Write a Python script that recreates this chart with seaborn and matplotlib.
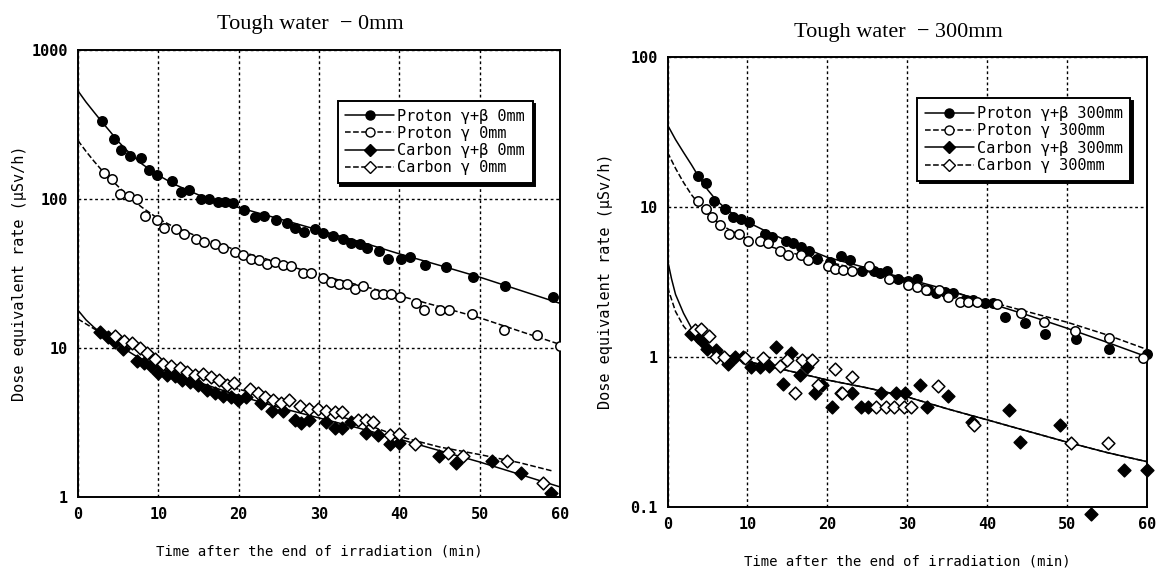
import numpy as np
import pandas as pd
import matplotlib
matplotlib.use("Agg")
import matplotlib.pyplot as plt
import seaborn as sns
from matplotlib.lines import Line2D

# ---------------- Left panel: Tough water - 0mm ----------------
p_gb0_t = [2.95, 4.47, 5.4, 6.45, 7.9, 8.85, 9.86, 11.75, 12.86, 13.8, 15.3, 16.3, 17.4, 18.3, 19.3,
           20.7, 22.1, 23.1, 24.6, 26.0, 27.05, 28.1, 29.5, 30.5, 31.7, 33.0, 33.96, 35.1, 36.0, 37.5,
           38.6, 40.2, 41.3, 43.2, 45.8, 49.2, 53.2, 59.1]
p_gb0_v = [333, 255, 215, 195, 189, 156, 145, 133, 112, 115, 100, 100, 95.5, 95.5, 94,
           85, 76, 77, 72, 69, 64, 60, 63, 59, 57, 54, 51, 50, 47, 45,
           40, 40, 41, 36, 35, 30, 26, 22]
p_g0_t = [3.3, 4.2, 5.25, 6.3, 7.3, 8.3, 9.8, 10.7, 12.2, 13.2, 14.7, 15.7, 17.1, 18.1, 19.5,
          20.6, 21.5, 22.5, 23.5, 24.5, 25.5, 26.5, 28.0, 29.0, 30.5, 31.5, 32.5, 33.5, 34.5, 35.5,
          37.0, 38.0, 39.0, 40.1, 42.1, 43.1, 45.1, 46.2, 49.1, 53.0, 57.1, 60.0]
p_g0_v = [149, 137, 109, 105, 100, 77, 72, 64, 63, 58, 54, 52, 50, 47, 44,
          42, 40, 39, 37, 38, 36, 35.5, 32, 32, 29.5, 28, 27, 27, 25, 26,
          23, 23, 23, 22, 20, 18, 18, 18, 17, 13.3, 12.3, 10.4]
c_gb0_t = [2.7, 3.7, 4.65, 5.6, 7.3, 8.2, 9.05, 10.0, 11.1, 12.1, 12.95, 13.9, 14.95, 16.1, 17.0,
           18.05, 19.0, 19.9, 20.95, 22.8, 24.2, 25.5, 27.0, 27.8, 28.8, 30.9, 31.95, 32.9, 33.95, 35.9,
           37.3, 38.9, 40.0, 45.0, 47.0, 51.5, 55.1, 58.9]
c_gb0_v = [12.9, 11.8, 11.0, 9.8, 8.2, 7.9, 7.6, 6.8, 6.6, 6.5, 6.1, 5.9, 5.7, 5.2, 5.0,
           4.8, 4.7, 4.5, 4.7, 4.25, 3.8, 3.8, 3.3, 3.15, 3.3, 3.2, 2.9, 2.9, 3.2, 2.7,
           2.6, 2.26, 2.3, 1.9, 1.7, 1.74, 1.45, 1.06]
c_g0_t = [4.6, 5.7, 6.7, 7.7, 8.6, 9.55, 10.6, 11.6, 12.65, 13.6, 14.6, 15.6, 16.6, 17.5, 18.5,
          19.4, 21.4, 22.4, 23.3, 24.3, 25.3, 26.3, 27.7, 28.7, 29.9, 30.9, 31.95, 32.9, 34.8, 35.8,
          36.7, 38.8, 40.0, 41.9, 46.0, 47.9, 53.4, 57.9]
c_g0_v = [12.1, 11.2, 10.9, 10.1, 9.3, 8.5, 7.8, 7.6, 7.4, 6.9, 6.6, 6.7, 6.4, 6.1, 5.7,
          5.8, 5.3, 5.0, 4.7, 4.5, 4.25, 4.5, 4.1, 3.9, 3.9, 3.8, 3.7, 3.7, 3.3, 3.3,
          3.2, 2.6, 2.65, 2.26, 1.98, 1.88, 1.74, 1.25]

# fitted curves (left)
fit_p_gb0_t = [0, 1, 2, 3, 4, 5, 6, 7, 8, 10, 12, 15, 20, 25, 30, 35, 40, 45, 50, 55, 60]
fit_p_gb0_v = [535, 450, 385, 330, 285, 245, 215, 192, 172, 145, 126, 107, 88, 74, 62, 52, 43, 36, 30, 24.5, 20]
fit_p_g0_t = [0, 1, 2, 3, 4, 5, 6, 7, 8, 10, 12, 15, 20, 25, 30, 35, 40, 45, 50, 55, 60]
fit_p_g0_v = [248, 210, 180, 156, 138, 122, 108, 97, 88, 74, 65, 56, 45, 37.5, 31, 26.5, 22.5, 19, 16, 13, 10.6]
fit_c_gb0_t = [0, 1, 2, 3, 5, 7, 10, 15, 20, 25, 30, 35, 40, 45, 50, 55, 60]
fit_c_gb0_v = [18, 15.5, 13.8, 12.5, 10.5, 9.0, 7.4, 5.9, 4.8, 4.0, 3.4, 2.9, 2.45, 2.05, 1.72, 1.42, 1.17]
fit_c_g0_t = [0, 2, 5, 10, 15, 20, 25, 30, 35, 40, 45, 50, 55, 59]
fit_c_g0_v = [15.7, 13.5, 11.2, 8.2, 6.4, 5.3, 4.5, 3.8, 3.2, 2.55, 2.17, 1.93, 1.7, 1.5]

# ---------------- Right panel: Tough water - 300mm ----------------
p_gb3_t = [3.85, 4.87, 5.8, 7.24, 8.17, 9.2, 10.2, 12.2, 13.1, 14.8, 15.7, 16.7, 17.7, 18.7, 20.3,
           21.7, 22.9, 24.3, 25.8, 26.6, 27.5, 28.9, 30.1, 31.2, 32.6, 33.6, 34.7, 35.8, 37.3, 38.3,
           39.8, 40.7, 42.3, 44.7, 47.3, 51.2, 55.3, 60.0]
p_gb3_v = [16.1, 14.3, 10.9, 9.7, 8.6, 8.3, 7.9, 6.6, 6.3, 5.9, 5.7, 5.4, 5.1, 4.5, 4.3,
           4.7, 4.4, 3.7, 3.7, 3.6, 3.7, 3.3, 3.2, 3.3, 2.8, 2.66, 2.7, 2.66, 2.4, 2.4,
           2.27, 2.27, 1.85, 1.68, 1.42, 1.31, 1.13, 1.05]
p_g3_t = [3.76, 4.78, 5.6, 6.6, 7.66, 8.96, 10.1, 11.6, 12.6, 14.1, 15.1, 16.7, 17.6, 20.1, 21.0,
          22.0, 23.1, 25.2, 27.7, 30.1, 31.2, 32.4, 34.0, 35.1, 36.6, 37.6, 38.7, 41.2, 44.2, 47.2,
          51.0, 55.3, 59.5]
p_g3_v = [10.9, 9.7, 8.5, 7.6, 6.6, 6.6, 5.9, 5.9, 5.7, 5.1, 4.8, 4.8, 4.4, 4.0, 3.85,
          3.8, 3.7, 4.0, 3.3, 3.0, 2.9, 2.8, 2.8, 2.5, 2.3, 2.3, 2.3, 2.24, 1.96, 1.71,
          1.48, 1.34, 0.98]
c_gb3_t = [2.9, 3.85, 4.3, 5.0, 6.1, 7.56, 8.5, 9.4, 10.4, 11.6, 12.7, 13.6, 14.4, 15.5, 16.6,
           17.5, 18.5, 19.4, 20.6, 21.7, 23.1, 24.2, 25.1, 26.7, 28.6, 29.7, 31.6, 32.5, 35.1, 38.1,
           42.7, 44.1, 49.1, 53.0, 57.1, 60.0]
c_gb3_v = [1.42, 1.36, 1.27, 1.13, 1.11, 0.90, 0.99, 0.99, 0.85, 0.85, 0.87, 1.16, 0.66, 1.06, 0.755,
           0.85, 0.57, 0.65, 0.465, 0.57, 0.57, 0.465, 0.465, 0.57, 0.57, 0.57, 0.65, 0.465, 0.55, 0.37,
           0.445, 0.27, 0.353, 0.089, 0.176, 0.176]
c_g3_t = [3.4, 4.2, 5.2, 6.1, 7.1, 9.65, 12.0, 14.1, 14.9, 15.9, 16.8, 18.1, 18.9, 21.0, 21.9,
          23.1, 26.1, 27.3, 28.4, 29.6, 30.5, 33.9, 38.4, 50.5, 55.1]
c_g3_v = [1.5, 1.53, 1.38, 0.99, 0.99, 0.98, 0.98, 0.87, 0.95, 0.57, 0.95, 0.95, 0.65, 0.83, 0.57,
          0.73, 0.465, 0.465, 0.465, 0.465, 0.465, 0.64, 0.353, 0.265, 0.265]

# fitted curves (right)
fit_p_gb3_t = [0, 1, 2, 3, 4, 5, 6, 7, 8, 10, 12, 15, 20, 25, 30, 35, 40, 45, 50, 55, 60]
fit_p_gb3_v = [35, 28, 23, 19, 15.5, 13, 11.2, 10, 9.1, 7.9, 7.0, 5.9, 4.6, 3.9, 3.3, 2.8, 2.3, 1.9, 1.55, 1.25, 1.0]
fit_p_g3_t = [0, 1, 2, 3, 4, 5, 6, 7, 8, 10, 12, 15, 20, 25, 30, 35, 40, 45, 50, 55, 60]
fit_p_g3_v = [23, 18, 14.5, 12, 10.3, 9.0, 8.1, 7.4, 6.9, 6.1, 5.6, 5.0, 4.3, 3.7, 3.2, 2.75, 2.35, 2.0, 1.7, 1.4, 1.12]
fit_c_gb3_t = [0, 0.5, 1, 2, 3, 4, 5, 6, 8, 10, 15, 20, 25, 30, 35, 40, 45, 50, 55, 60]
fit_c_gb3_v = [4.4, 3.3, 2.6, 1.95, 1.55, 1.3, 1.17, 1.1, 1.0, 0.93, 0.81, 0.70, 0.62, 0.54, 0.45, 0.38, 0.32, 0.27, 0.23, 0.20]
fit_c_g3_t = [0, 1, 2, 3, 4, 5, 6, 8, 10, 15, 20, 25, 30, 35, 40, 45, 50, 55, 60]
fit_c_g3_v = [2.9, 2.0, 1.6, 1.38, 1.25, 1.15, 1.08, 1.0, 0.93, 0.81, 0.70, 0.62, 0.54, 0.45, 0.38, 0.32, 0.27, 0.23, 0.20]

left_labels = ["Proton γ+β 0mm", "Proton γ 0mm", "Carbon γ+β 0mm", "Carbon γ 0mm"]
right_labels = ["Proton γ+β 300mm", "Proton γ 300mm", "Carbon γ+β 300mm", "Carbon γ 300mm"]
left_yticks = [1, 10, 100, 1000]
left_yticklabels = ["1", "10", "100", "1000"]
right_yticks = [0.1, 1, 10, 100]
right_yticklabels = ["0.1", "1", "10", "100"]
xticks = [0, 10, 20, 30, 40, 50, 60]

# ---------------- drawing ----------------
sns.set_theme(style="white")
plt.rcParams['font.family'] = ['DejaVu Sans Mono', 'DejaVu Sans']

fig = plt.figure(figsize=(11.63, 5.72), dpi=100)
ax1 = fig.add_axes([0.067, 0.131, 0.4145, 0.781])
ax2 = fig.add_axes([0.574, 0.114, 0.412, 0.787])

styles = [  # (marker, facecolor, linestyle)
    ("o", "black", "-"),
    ("o", "white", "--"),
    ("D", "black", "-"),
    ("D", "white", "--"),
]


def draw_panel(ax, pts, fits, labels, yticks, yticklabels, ylim, legend_anchor):
    for (t, v), (ft, fv), (mk, fc, ls) in zip(pts, fits, styles):
        sns.lineplot(x=ft, y=fv, ax=ax, color="black", linestyle=ls, linewidth=1.1,
                     estimator=None, sort=True, legend=False)
        sns.scatterplot(x=t, y=v, ax=ax, marker=mk, s=46 if mk == "o" else 42,
                        color=fc, edgecolor="black", linewidth=1.1, legend=False, zorder=3)
    ax.set_yscale("log")
    ax.set_xlim(0, 60)
    ax.set_ylim(*ylim)
    ax.set_xticks(xticks)
    ax.set_xticklabels([str(x) for x in xticks])
    ax.set_yticks(yticks)
    ax.set_yticklabels(yticklabels)
    ax.yaxis.set_minor_locator(matplotlib.ticker.NullLocator())
    ax.tick_params(axis="both", length=0, pad=7, labelsize=11, colors="black")
    for lab in ax.get_xticklabels() + ax.get_yticklabels():
        lab.set_fontweight("bold")
    ax.grid(True, which="major", color="black", linestyle=(0, (2, 2)), linewidth=1.0)
    for sp in ax.spines.values():
        sp.set_color("black")
        sp.set_linewidth(1.4)
        sp.set_visible(True)
    ax.set_xlabel("Time after the end of irradiation (min)", fontsize=10, color="black")
    ax.set_ylabel("Dose equivalent rate (μSv/h)", fontsize=11, color="black")
    handles = []
    for (mk, fc, ls) in styles:
        handles.append(Line2D([], [], color="black", linestyle=ls, linewidth=1.1,
                              marker=mk, markersize=6.5 if mk == "o" else 6,
                              markerfacecolor=fc, markeredgecolor="black"))
    leg = ax.legend(handles, labels, loc="upper left", bbox_to_anchor=legend_anchor,
                    fontsize=11, frameon=True, fancybox=False, framealpha=1,
                    edgecolor="black", handlelength=3.2, handletextpad=0.2,
                    labelspacing=0.15, borderpad=0.5,
                    shadow={"color": "black", "alpha": 1})
    leg.get_frame().set_linewidth(1.4)
    for txt in leg.get_texts():
        txt.set_color("black")


draw_panel(ax1,
           [(p_gb0_t, p_gb0_v), (p_g0_t, p_g0_v), (c_gb0_t, c_gb0_v), (c_g0_t, c_g0_v)],
           [(fit_p_gb0_t, fit_p_gb0_v), (fit_p_g0_t, fit_p_g0_v),
            (fit_c_gb0_t, fit_c_gb0_v), (fit_c_g0_t, fit_c_g0_v)],
           left_labels, left_yticks, left_yticklabels, (1, 1000), (0.523, 0.904))
ax1.xaxis.set_label_coords(0.5, -0.107)
ax1.yaxis.set_label_coords(-0.106, 0.5)

draw_panel(ax2,
           [(p_gb3_t, p_gb3_v), (p_g3_t, p_g3_v), (c_gb3_t, c_gb3_v), (c_g3_t, c_g3_v)],
           [(fit_p_gb3_t, fit_p_gb3_v), (fit_p_g3_t, fit_p_g3_v),
            (fit_c_gb3_t, fit_c_gb3_v), (fit_c_g3_t, fit_c_g3_v)],
           right_labels, right_yticks, right_yticklabels, (0.1, 100), (0.505, 0.924))
ax2.xaxis.set_label_coords(0.5, -0.105)
ax2.yaxis.set_label_coords(-0.113, 0.5)
for c in ax2.collections:
    c.set_clip_on(False)

fig.text(310 / 1163, 1 - 24 / 572, "Tough water  − 0mm", ha="center", va="center",
         fontsize=16, family="Liberation Serif", color="black")
fig.text(898 / 1163, 1 - 33 / 572, "Tough water  − 300mm", ha="center", va="center",
         fontsize=16, family="Liberation Serif", color="black")

fig.savefig("out.png", dpi=100, facecolor="white")
